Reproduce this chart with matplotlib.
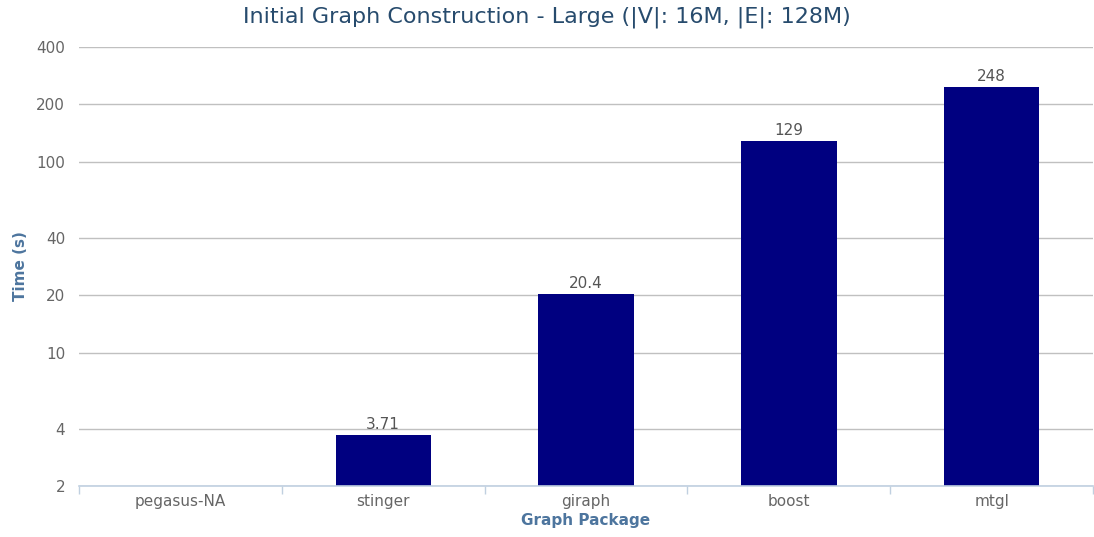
import numpy as np
import matplotlib
matplotlib.use("Agg")
import matplotlib.pyplot as plt
from matplotlib.ticker import FixedLocator, NullLocator, FixedFormatter

packages = ["pegasus-NA", "stinger", "giraph", "boost", "mtgl"]
times = [np.nan, 3.71, 20.4, 129, 248]
labels = ["", "3.71", "20.4", "129", "248"]
yticks = [2, 4, 10, 20, 40, 100, 200, 400]

ymin, ymax = 2, 400

fig = plt.figure(figsize=(10.94, 5.37), dpi=100)
ax = fig.add_axes([0.0722, 0.095, 0.927, 0.8175])

x = np.arange(len(packages))
vals = np.array(times, dtype=float)
ax.bar(x, vals - ymin, width=0.47, bottom=ymin, color="#000080", zorder=3)
ax.set_yscale("log")
ax.set_ylim(ymin, ymax)
ax.set_xlim(-0.5, len(packages) - 0.5)

ax.yaxis.set_major_locator(FixedLocator(yticks))
ax.yaxis.set_major_formatter(FixedFormatter([str(t) for t in yticks]))
ax.yaxis.set_minor_locator(NullLocator())
ax.grid(axis="y", color="#c0c0c0", linewidth=1, zorder=0)
ax.tick_params(axis="y", length=0, labelsize=11, labelcolor="#666666", pad=10)

ax.set_xticks(x)
ax.set_xticklabels(packages)
ax.tick_params(axis="x", length=0, labelsize=11, labelcolor="#666666", pad=6)
ax.set_xticks(np.arange(-0.5, len(packages)), minor=True)
ax.tick_params(axis="x", which="minor", length=6, color="#c0d0e0", width=1)

for s in ["top", "right", "left"]:
    ax.spines[s].set_visible(False)
ax.spines["bottom"].set_color("#c0d0e0")
ax.spines["bottom"].set_linewidth(1.2)
ax.spines["bottom"].set_zorder(4)

for xi, v, lab in zip(x, vals, labels):
    if lab:
        ax.text(xi, v * 1.03, lab, ha="center", va="bottom", fontsize=11, color="#555555")

ax.set_ylabel("Time (s)", fontsize=11, fontweight="bold", color="#4d759e", labelpad=6)
ax.set_xlabel("Graph Package", fontsize=11, fontweight="bold", color="#4d759e", labelpad=3)
fig.text(0.5, 0.967, "Initial Graph Construction - Large (|V|: 16M, |E|: 128M)",
         ha="center", va="center", fontsize=16, color="#274b6d")

fig.savefig("out.png", dpi=100)
